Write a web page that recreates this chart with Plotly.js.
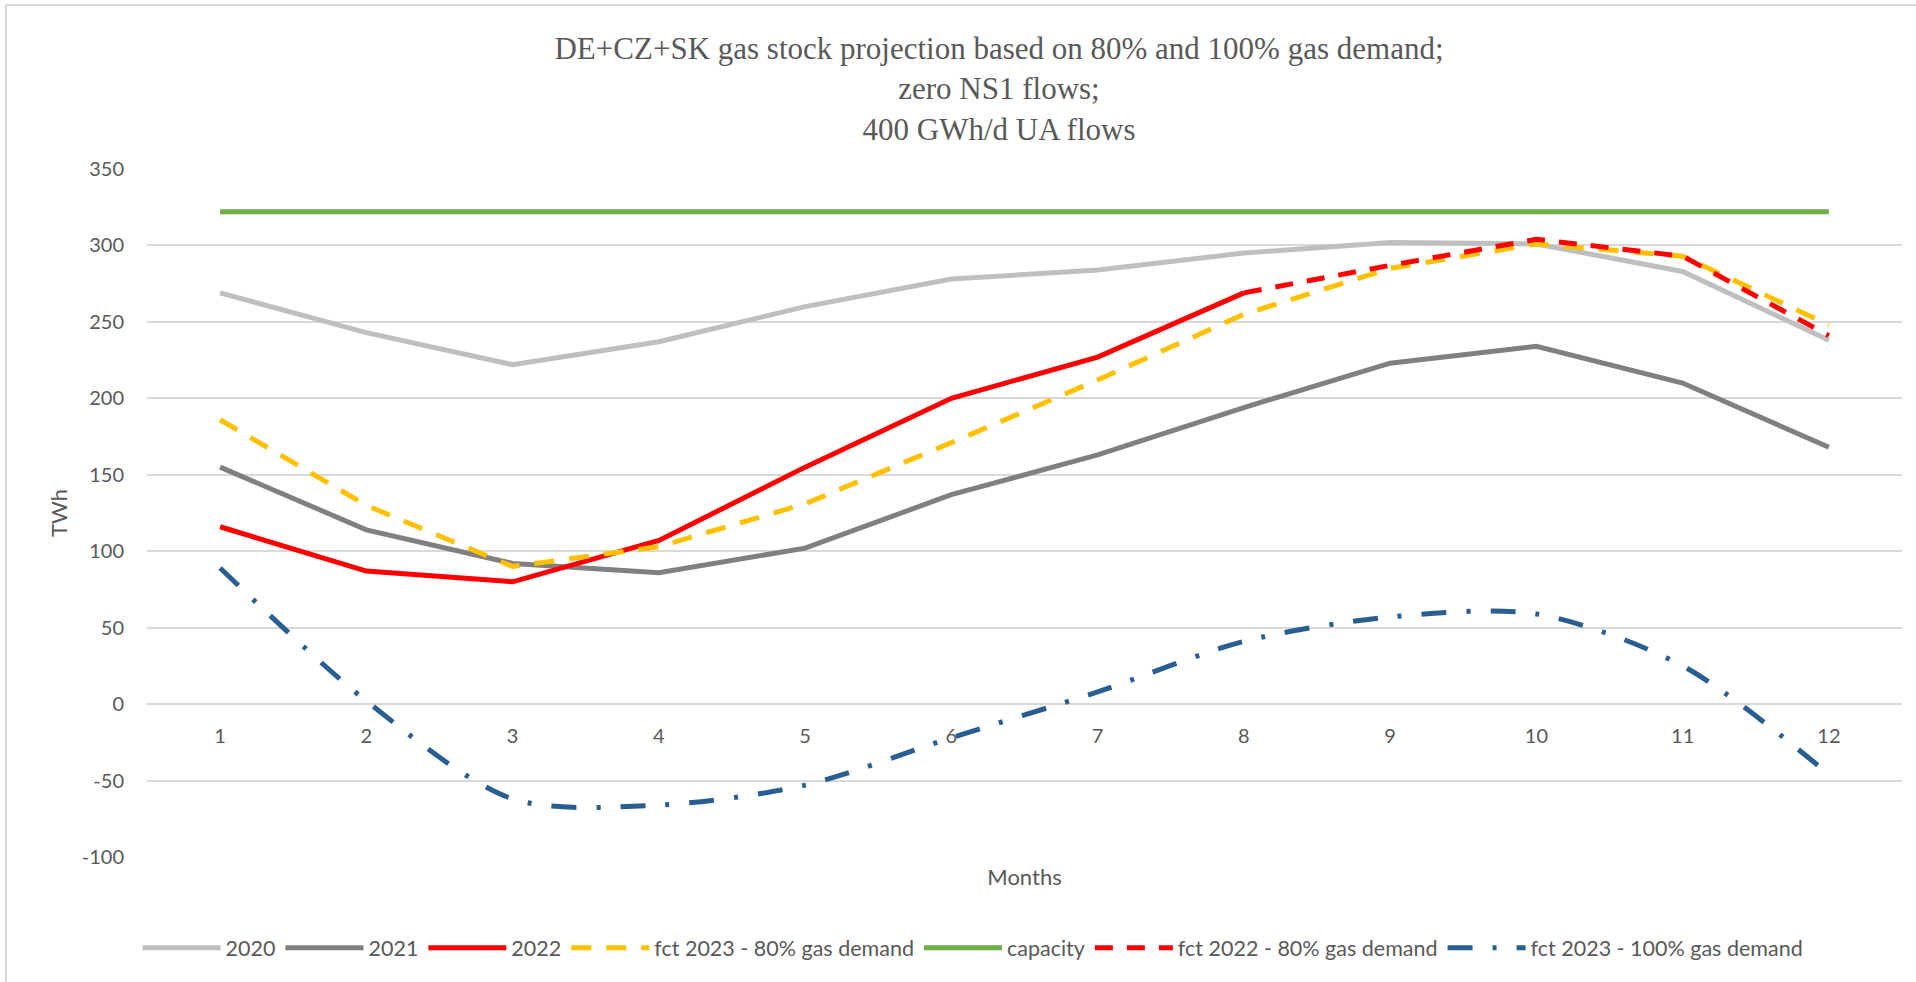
<!DOCTYPE html>
<html>
<head>
<meta charset="utf-8">
<script src="https://cdn.plot.ly/plotly-3.0.1.min.js"></script>
<style>
  html, body { margin: 0; padding: 0; background: #ffffff; }
  #chart { width: 1916px; height: 982px; }
</style>
</head>
<body>
<div id="chart"></div>
<script>
// ---- Data ----
const months = [1, 2, 3, 4, 5, 6, 7, 8, 9, 10, 11, 12];
const monthLabels = ["1", "2", "3", "4", "5", "6", "7", "8", "9", "10", "11", "12"];

const stock2020 = [269, 243, 222, 237, 260, 278, 284, 295, 302, 301, 283, 238];
const stock2021 = [155, 114, 92, 86, 102, 137, 163, 194, 223, 234, 210, 168];
const stock2022 = [116, 87, 80, 107, 155, 200, 227, 269, null, null, null, null];
const fct2023_80 = [186, 130, 90, 103, 131, 171, 212, 255, 285, 301, 293, 248];
const capacity = [322, 322, 322, 322, 322, 322, 322, 322, 322, 322, 322, 322];
const fct2022_80 = [null, null, null, null, null, null, null, 269, 287, 304, 293, 241];
const fct2023_100 = [89, 2, -62, -66, -53, -22, 8, 41, 57, 59, 25, -46];

const seriesNames = [
  "2020", "2021", "2022", "fct 2023 - 80% gas demand",
  "capacity", "fct 2022 - 80% gas demand", "fct 2023 - 100% gas demand"
];

const yTicks = [-100, -50, 0, 50, 100, 150, 200, 250, 300, 350];
const yTickLabels = ["-100", "-50", "0", "50", "100", "150", "200", "250", "300", "350"];

const titleText = "DE+CZ+SK gas stock projection based on 80% and 100% gas demand;<br>zero NS1 flows;<br>400 GWh/d UA flows";

// ---- Traces ----
const W = 5;
const traces = [
  { name: seriesNames[0], x: months, y: stock2020, line: { color: "#BFBFBF", width: W } },
  { name: seriesNames[1], x: months, y: stock2021, line: { color: "#808080", width: W } },
  { name: seriesNames[2], x: months, y: stock2022, line: { color: "#FF0000", width: W } },
  { name: seriesNames[3], x: months, y: fct2023_80, line: { color: "#FFC000", width: W, dash: "20px,15px" } },
  { name: seriesNames[4], x: months, y: capacity, line: { color: "#70AD47", width: W } },
  { name: seriesNames[5], x: months, y: fct2022_80, line: { color: "#FF0000", width: W, dash: "18px,14px" } },
  { name: seriesNames[6], x: months, y: fct2023_100, line: { color: "#285E91", width: W, dash: "25px,20px,4px,20px", shape: "spline", smoothing: 0.85 } }
].map(t => Object.assign({ type: "scatter", mode: "lines", connectgaps: false, hoverinfo: "x+y+name" }, t));

const fontFam = "Lato, 'Open Sans', sans-serif";
const txtCol = "#595959";

// plot area: x 147..1902, y 169..857 (pixels)
const layout = {
  width: 1916,
  height: 982,
  paper_bgcolor: "#ffffff",
  plot_bgcolor: "#ffffff",
  margin: { l: 147, r: 14, t: 169, b: 125, pad: 0 },
  title: {
    text: titleText,
    font: { family: "'Liberation Serif', 'Times New Roman', serif", size: 31, color: txtCol },
    xref: "container", yref: "container",
    x: 0.5214, xanchor: "center",
    y: 1 - 59 / 982, yanchor: "middle"
  },
  showlegend: true,
  legend: {
    orientation: "h",
    x: 0.4707, xanchor: "center",
    y: -0.132, yanchor: "middle",
    font: { family: fontFam, size: 21.5, color: txtCol },
    itemwidth: 78,
    bgcolor: "rgba(0,0,0,0)",
    traceorder: "normal"
  },
  xaxis: {
    type: "linear",
    range: [0.5, 12.5],
    tickmode: "array",
    tickvals: months,
    ticktext: monthLabels,
    anchor: "free",
    position: 100 / 450,
    showgrid: false,
    zeroline: false,
    showline: false,
    ticks: "outside",
    ticklen: 14,
    tickcolor: "rgba(0,0,0,0)",
    tickfont: { family: fontFam, size: 20, color: txtCol },
    title: {
      text: "Months",
      font: { family: fontFam, size: 22, color: txtCol },
      standoff: 123
    },
    fixedrange: true
  },
  yaxis: {
    range: [-100, 350],
    tickmode: "array",
    tickvals: yTicks,
    ticktext: yTickLabels,
    showgrid: true,
    gridcolor: "#D9D9D9",
    gridwidth: 1.8,
    zeroline: false,
    showline: false,
    ticks: "outside",
    ticklen: 18,
    tickcolor: "rgba(0,0,0,0)",
    tickfont: { family: fontFam, size: 20, color: txtCol },
    title: {
      text: "TWh",
      font: { family: fontFam, size: 22, color: txtCol },
      standoff: 8
    },
    fixedrange: true
  },
  shapes: [
    // chart-area border (left and top edges visible in the reference)
    { type: "line", xref: "paper", yref: "paper", x0: (6 - 147) / 1755, x1: (6 - 147) / 1755, y0: (857 - 5) / 688, y1: (857 - 982) / 688,
      line: { color: "#D9D9D9", width: 2 } },
    { type: "line", xref: "paper", yref: "paper", x0: (6 - 147) / 1755, x1: (1916 - 147) / 1755, y0: (857 - 5) / 688, y1: (857 - 5) / 688,
      line: { color: "#D9D9D9", width: 2 } }
  ]
};

Plotly.newPlot("chart", traces, layout, { displayModeBar: false, responsive: false });
</script>
</body>
</html>
